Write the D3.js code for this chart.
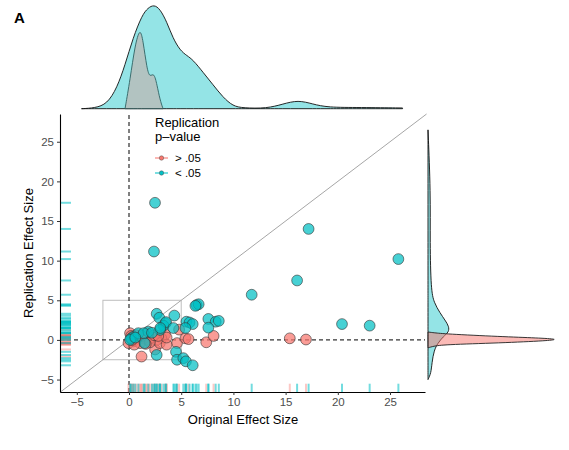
<!DOCTYPE html>
<html>
<head>
<meta charset="utf-8">
<script src="https://cdn.jsdelivr.net/npm/d3@7"></script>
<style>
  body { margin: 0; background: #fff; }
  svg text { font-family: "Liberation Sans", Arial, sans-serif; }
</style>
</head>
<body>
<div id="chart"></div>
<script>
// replication p < .05 (teal)
var origSig = [2.49, 2.39, 17.2, 25.8, 16.1, 11.75, 20.4, 23.05, 6.48, 6.67, 6.36, 2.65, 2.9, 4.34,
  3.5, 3.3, 3.55, 5.5, 5.8, 6.1, 7.6, 8.3, 8.6, 7.6, 4.25, 5.4, 4.5, 4.6, 5.2, 5.45, 6.1, 2.65,
  1.5, 0.4, 0.2, 0.9, 1.85, 1.4, 2.97, 0.1, 0.6, 2.2, 3.0];
var repSig = [17.3, 11.15, 14.0, 10.2, 7.5, 5.7, 2.0, 1.8, 4.4, 4.5, 4.3, 3.3, 2.8, 3.07,
  2.1, 1.8, 2.25, 2.3, 2.2, 2.0, 2.65, 2.3, 2.4, 1.55, 1.5, 1.5, -1.5, -2.5, -2.3, -2.7, -3.2, -1.9,
  -0.4, 0.4, 0.2, 0.85, 1.05, 0.85, 1.26, 0.0, 0.3, 0.9, 1.5];
// replication p > .05 (red)
var origNon = [15.4, 16.95, 7.4, 8.1, 4.6, 5.4, 5.7, 2.5, 1.2, 3.45, 3.1, 2.65, 2.2, 1.85, 1.4,
  0.9, 0.4, 0.1, -0.05, 1.7, 2.95, 3.6, 1.05, 2.0, 3.6, 0.2, 0.7, 1.2, 2.4, 4.8, 0.5, 1.6, 0.3, 2.8];
var repNon = [0.2, 0.05, -0.3, 0.5, -0.4, 0.2, 0.1, -1.2, -2.1, 0.7, 0.2, 0.0, 0.3, 0.0, 0.2,
  0.1, -0.2, 0.85, -0.4, 0.85, -0.4, -0.6, -0.4, -0.3, 0.3, 0.5, 0.6, 0.5, 0.6, 1.3, -0.6, -0.5, 0.0, 0.5];

var xTicks = [-5, 0, 5, 10, 15, 20, 25];
var yTicks = [-5, 0, 5, 10, 15, 20, 25];

// marginal densities (relative height)
var topSigX = [-4.55, -3.26, -2.1, -1.15, -0.38, 0.38, 1.25, 1.82, 2.39, 2.97, 3.64, 4.2, 4.9, 5.55,
  6.13, 7.09, 8.05, 9.0, 9.96, 10.9, 13.2, 14.75, 16.2, 17.6, 19.0, 22.1, 26.2];
var topSigD = [0, 0.007, 0.045, 0.2, 0.42, 0.68, 0.9, 0.97, 1.0, 0.96, 0.83, 0.68, 0.56, 0.51,
  0.47, 0.35, 0.23, 0.11, 0.025, 0.007, 0.002, 0.045, 0.083, 0.045, 0.012, 0.012, 0.007];
var topNonX = [-0.38, 0.1, 0.57, 1.05, 1.34, 1.72, 2.0, 2.39, 2.68, 2.97, 3.26];
var topNonD = [0, 0.28, 0.61, 0.78, 0.66, 0.38, 0.3, 0.35, 0.23, 0.084, 0];

var rightSigY = [-5.0, -4.2, -2.9, -1.3, -0.4, 0.4, 1.0, 1.7, 2.5, 3.4, 4.7, 6.3, 12.2, 18.6, 26.5];
var rightSigD = [0, 0.023, 0.03, 0.046, 0.076, 0.115, 0.16, 0.16, 0.13, 0.092, 0.046, 0.023, 0.015, 0.02, 0];
var rightNonY = [-1.0, -0.8, -0.6, -0.38, -0.1, 0.09, 0.25, 0.42, 0.76, 0.9, 1.0];
var rightNonD = [0, 0.04, 0.115, 0.55, 0.92, 1.0, 0.84, 0.55, 0.13, 0.046, 0];

var teal = "#00BFC4", red = "#F8766D";

var width = 569, height = 450;
var svg = d3.select("#chart").append("svg")
    .attr("width", width)
    .attr("height", height);

var x = d3.scaleLinear().domain([-6.61, 28.35]).range([60, 425]);
var y = d3.scaleLinear().domain([-6.57, 28.5]).range([392, 114]);
var yTop = d3.scaleLinear().domain([0, 1]).range([108.7, 4.7]);
var xRight = d3.scaleLinear().domain([0, 1]).range([428, 559]);

// ---- top marginal density
function topArea(xs, ds) {
  return d3.area().x(i => x(xs[i])).y0(yTop(0)).y1(i => yTop(ds[i])).curve(d3.curveBasis)(d3.range(xs.length));
}
svg.append("path").attr("d", topArea(topSigX, topSigD))
    .attr("fill", teal).attr("fill-opacity", 0.42)
    .attr("stroke", "#111").attr("stroke-width", 0.9);
svg.append("path").attr("d", topArea(topNonX, topNonD))
    .attr("fill", red).attr("fill-opacity", 0.3)
    .attr("stroke", "#2f6263").attr("stroke-width", 0.9);

// ---- right marginal density
function rightArea(ys, ds) {
  return d3.area().y(i => y(ys[i])).x0(xRight(0)).x1(i => xRight(ds[i])).curve(d3.curveBasis)(d3.range(ys.length));
}
svg.append("path").attr("d", rightArea(rightSigY, rightSigD))
    .attr("fill", teal).attr("fill-opacity", 0.42)
    .attr("stroke", "#111").attr("stroke-width", 0.9);
svg.append("path").attr("d", rightArea(rightNonY, rightNonD))
    .attr("fill", red).attr("fill-opacity", 0.5)
    .attr("stroke", "#222").attr("stroke-width", 0.9);

// ---- reference lines
svg.append("rect")
    .attr("x", x(-2.5)).attr("y", y(5))
    .attr("width", x(5) - x(-2.5)).attr("height", y(-2.5) - y(5))
    .attr("fill", "none").attr("stroke", "#bdbdbd").attr("stroke-width", 1);
svg.append("line")
    .attr("x1", x(-6.61)).attr("y1", y(-6.61))
    .attr("x2", x(28.5)).attr("y2", y(28.5))
    .attr("stroke", "#a6a6a6").attr("stroke-width", 1);
svg.append("line")
    .attr("x1", x(0)).attr("x2", x(0)).attr("y1", y(-6.57)).attr("y2", y(28.5))
    .attr("stroke", "#000").attr("stroke-dasharray", "4,3");
svg.append("line")
    .attr("x1", x(-6.61)).attr("x2", x(28.35)).attr("y1", y(0)).attr("y2", y(0))
    .attr("stroke", "#000").attr("stroke-dasharray", "4,3");

// ---- rugs
function rugs(xs, ys, col, op) {
  var g = svg.append("g").attr("stroke", col).attr("stroke-opacity", op).attr("stroke-width", 2);
  g.selectAll(".rx").data(xs).join("line")
      .attr("x1", d => x(d)).attr("x2", d => x(d))
      .attr("y1", y(-6.57)).attr("y2", y(-6.57) - 8.3);
  g.selectAll(".ry").data(ys).join("line")
      .attr("y1", d => y(d)).attr("y2", d => y(d))
      .attr("x1", x(-6.61)).attr("x2", x(-6.61) + 11);
}
rugs(origNon, repNon, red, 0.4);
rugs(origSig, repSig, teal, 0.55);

// ---- points
function points(xs, ys, col) {
  svg.append("g").selectAll("circle").data(xs).join("circle")
      .attr("cx", d => x(d))
      .attr("cy", (d, i) => y(ys[i]))
      .attr("r", 5.4)
      .attr("fill", col).attr("fill-opacity", 0.72)
      .attr("stroke", "#333").attr("stroke-opacity", 0.6).attr("stroke-width", 1);
}
points(origNon, repNon, red);
points(origSig, repSig, teal);

// ---- axes
var xAxis = svg.append("g").attr("transform", "translate(0," + y(-6.57) + ")")
    .call(d3.axisBottom(x).tickValues(xTicks).tickSize(3).tickPadding(3).tickSizeOuter(0));
var yAxis = svg.append("g").attr("transform", "translate(" + x(-6.61) + ",0)")
    .call(d3.axisLeft(y).tickValues(yTicks).tickSize(3).tickPadding(3).tickSizeOuter(0));
[xAxis, yAxis].forEach(function(a) {
  a.select(".domain").attr("stroke", "#000").attr("stroke-width", 1.1);
  a.selectAll(".tick line").attr("stroke", "#333");
  a.selectAll(".tick text").attr("fill", "#4d4d4d").style("font-size", "11.5px");
});

svg.append("text")
    .attr("x", 243).attr("y", 424)
    .attr("text-anchor", "middle")
    .style("font-size", "13px")
    .text("Original Effect Size");
svg.append("text")
    .attr("transform", "translate(33,253) rotate(-90)")
    .attr("text-anchor", "middle")
    .style("font-size", "13px")
    .text("Replication Effect Size");

svg.append("text")
    .attr("x", 14).attr("y", 23)
    .style("font-size", "15px").style("font-weight", "bold")
    .text("A");

// ---- legend
var legend = svg.append("g").attr("transform", "translate(155,0)");
legend.append("text").attr("x", 0).attr("y", 127).style("font-size", "13px").text("Replication");
legend.append("text").attr("x", 0).attr("y", 141).style("font-size", "13px").text("p\u2013value");
var keys = [{label: "> .05", col: red, y: 158}, {label: "< .05", col: teal, y: 173}];
keys.forEach(function(k) {
  legend.append("line").attr("x1", 0).attr("x2", 13).attr("y1", k.y).attr("y2", k.y)
      .attr("stroke", k.col).attr("stroke-opacity", 0.8).attr("stroke-width", 1.3);
  legend.append("circle").attr("cx", 6.5).attr("cy", k.y).attr("r", 2.2)
      .attr("fill", k.col).attr("stroke", "#555").attr("stroke-width", 0.5);
  legend.append("text").attr("x", 20).attr("y", k.y + 4).style("font-size", "11.5px").text(k.label);
});
</script>
</body>
</html>
